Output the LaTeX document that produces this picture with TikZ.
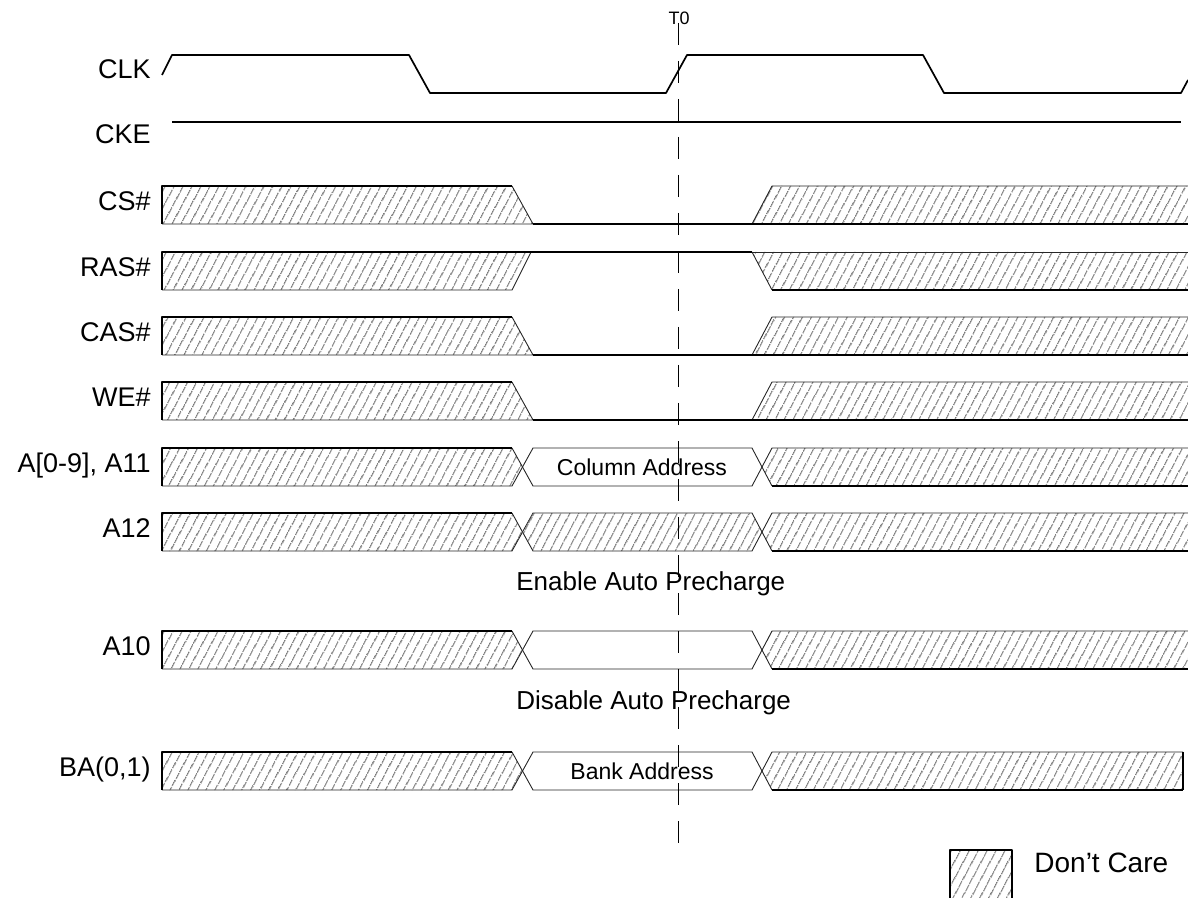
\documentclass[tikz,border=0pt]{standalone}
\usepackage{fontspec}
\setmainfont{Liberation Sans}
\usetikzlibrary{patterns.meta}
\tikzset{%
  wave/.style  = {line width=0.85pt, line join=round},
  edge/.style  = {line width=0.45pt, black!85, line join=round},
  dc/.style    = {pattern={Lines[angle=62, distance=4pt, line width=0.5pt]},
                  pattern color=black!80},
  tline/.style = {line width=0.8pt, dash pattern=on 11pt off 8pt},
  sig/.style   = {inner sep=0pt, anchor=mid east, font=\fontsize{13.5}{16}\selectfont},
  note/.style  = {inner sep=0pt, anchor=mid west, font=\fontsize{13}{15}\selectfont},
  val/.style   = {inner sep=0pt, font=\fontsize{11.5}{14}\selectfont},
}

\begin{document}
\begin{tikzpicture}[x=0.5pt, y=-0.5pt]
  \useasboundingbox (0,0) rectangle (1188,898);

  % signal names
  \node (sCLK)  [sig] at (151, 73) {CLK};
  \node (sCKE)  [sig] at (151,138) {CKE};
  \node (sCS)   [sig] at (151,205) {CS\#};
  \node (sRAS)  [sig] at (151,271) {RAS\#};
  \node (sCAS)  [sig] at (151,336) {CAS\#};
  \node (sWE)   [sig] at (151,401) {WE\#};
  \node (sAddr) [sig] at (151,467) {A[0-9], A11};
  \node (sA12)  [sig] at (151,532) {A12};
  \node (sA10)  [sig] at (151,650) {A10};
  \node (sBA)   [sig] at (151,771) {BA(0,1)};

  % clock, clock enable
  \draw[wave] (162,75) -- (172,55) -- (409,55) -- (430,93) -- (666,93)
              -- (687,55) -- (923,55) -- (944,93) -- (1181,93) -- (1188,80);
  \draw[wave] (172,122) -- (1181,122);

  % CS#, CAS#, WE# go low
  \foreach \t in {186,317,382} {
    \fill[dc] (162,\t) -- (512,\t) -- (533,\t+38) -- (162,\t+38) -- cycle;
    \fill[dc] (772,\t) -- (1188,\t) -- (1188,\t+38) -- (752,\t+38) -- cycle;
    \draw[edge] (162,\t+38) -- (533,\t+38) -- (512,\t);
    \draw[edge] (752,\t+38) -- (772,\t) -- (1188,\t);
    \draw[wave] (162,\t+38) -- (162,\t) -- (512,\t);
    \draw[wave] (533,\t+38) -- (1188,\t+38);
  }

  % RAS# stays high
  \fill[dc] (162,252) -- (531,252) -- (512,290) -- (162,290) -- cycle;
  \fill[dc] (752,252) -- (1188,252) -- (1188,290) -- (772,290) -- cycle;
  \draw[edge] (162,290) -- (512,290) -- (531,252);
  \draw[edge] (752,252) -- (772,290);
  \draw[edge] (752,252) -- (1188,252);
  \draw[wave] (162,290) -- (162,252) -- (752,252);
  \draw[wave] (772,290) -- (1188,290);

  % address and bank busses
  \foreach \t/\r in {448/1188, 513/1188, 631/1188, 752/1183} {
    \fill[dc] (162,\t) -- (512,\t) -- (522,\t+19) -- (512,\t+38) -- (162,\t+38) -- cycle;
    \fill[dc] (772,\t) -- (\r,\t) -- (\r,\t+38) -- (772,\t+38) -- (762,\t+19) -- cycle;
    \draw[edge] (162,\t+38) -- (512,\t+38) -- (533,\t) -- (752,\t) -- (772,\t+38);
    \draw[edge] (512,\t) -- (533,\t+38) -- (752,\t+38) -- (772,\t) -- (\r,\t);
    \draw[wave] (162,\t+38) -- (162,\t) -- (512,\t);
    \draw[wave] (772,\t+38) -- (\r,\t+38);
  }
  \fill[dc] (533,513) -- (752,513) -- (762,532) -- (752,551) -- (533,551) -- (522,532) -- cycle;
  \draw[wave] (1183,790) -- (1183,752);

  \node (colAddr)  [val]  at (642,467) {Column Address};
  \node (bankAddr) [val]  at (642,771) {Bank Address};
  \node (apOn)     [note] at (516,585) {Enable Auto Precharge};
  \node (apOff)    [note] at (516,704) {Disable Auto Precharge};

  % legend
  \fill[dc] (950,850) rectangle (1012,898);
  \draw[wave] (950,898) -- (950,850) -- (1012,850) -- (1012,898);
  \node (dcKey) [note, font=\fontsize{14}{16}\selectfont] at (1034,867) {Don’t Care};

  % reference edge
  \node (t0) [inner sep=0pt, font=\fontsize{9}{10}\selectfont] at (679,18) {T0};
  \coordinate (t0end) at (678.5,848);
  \draw[tline] (678.5,23) -- (t0end);
\end{tikzpicture}
\end{document}
